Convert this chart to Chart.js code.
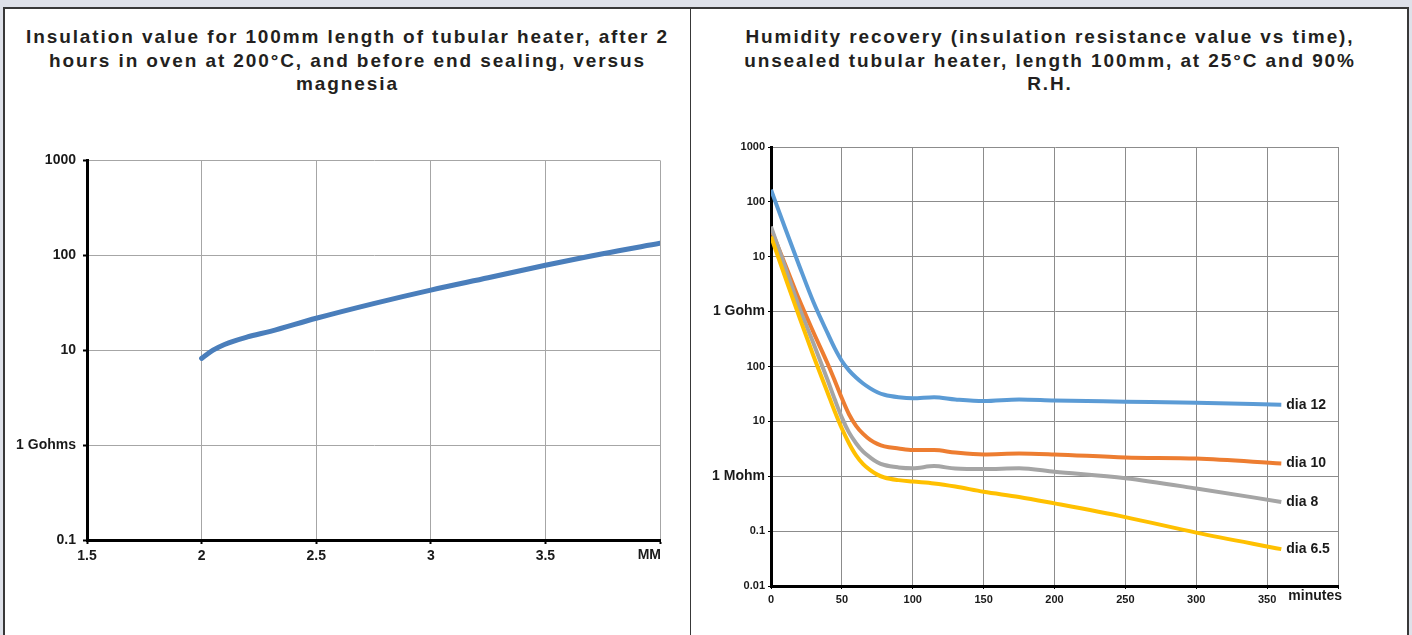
<!DOCTYPE html>
<html>
<head>
<meta charset="utf-8">
<script src="https://cdn.jsdelivr.net/npm/chart.js@4.4.1/dist/chart.umd.min.js"></script>
<style>
    html, body { margin: 0; padding: 0; }
    body {
        width: 1412px;
        height: 635px;
        overflow: hidden;
        position: relative;
        background: #dee1e9;
        font-family: "Liberation Sans", Arial, sans-serif;
    }
    .panel {
        position: absolute;
        top: 7px;
        height: 640px;
        background: #fff;
        border: 2px solid #383838;
        border-bottom: none;
        box-sizing: border-box;
    }
    #panel-left { left: 3px; width: 689px; }
    #panel-right { left: 691px; width: 718px; border-left: none; }
    .title {
        position: absolute;
        top: 25px;
        text-align: center;
        font-weight: bold;
        font-size: 19px;
        line-height: 23.5px;
        letter-spacing: 1.9px;
        color: #231f20;
    }
    #title-left { left: 3px; width: 689px; }
    #title-right { left: 691px; width: 718px; }
    .chart-box { position: absolute; }
    #box-left { left: 0; top: 145px; width: 690px; height: 460px; }
    #box-right { left: 692px; top: 135px; width: 716px; height: 480px; }
</style>
</head>
<body>
<div class="panel" id="panel-left"></div>
<div class="panel" id="panel-right"></div>
<div class="title" id="title-left">Insulation value for 100mm length of tubular heater, after 2<br>hours in oven at 200°C, and before end sealing, versus<br>magnesia</div>
<div class="title" id="title-right">Humidity recovery (insulation resistance value vs time),<br>unsealed tubular heater, length 100mm, at 25°C and 90%<br>R.H.</div>
<div class="chart-box" id="box-left"><canvas id="chart-left"></canvas></div>
<div class="chart-box" id="box-right"><canvas id="chart-right"></canvas></div>
<script>
// 左グラフ：マグネシア厚さ(mm) と 絶縁抵抗(Gohm)
const leftThickness = [2, 2.05, 2.1, 2.2, 2.3, 2.5, 2.75, 3, 3.25, 3.5, 3.75, 4];
const leftInsulation = [8.2, 10, 11.5, 13.8, 15.8, 21.7, 31, 43, 58, 78.5, 104, 134];
const leftYTicks = [0.1, 1, 10, 100, 1000];
const leftYTickLabels = ['0.1', '1 Gohms', '10', '100', '1000'];
const leftXTickLabels = ['1.5', '2', '2.5', '3', '3.5', 'MM'];

// 右グラフ：経過時間(分) と 絶縁抵抗(Mohm)
const rightMinutes = [0, 10, 20, 30, 40, 45, 50, 55, 60, 65, 70, 75, 80, 90, 100, 115, 130, 150, 175, 200, 250, 300, 360];
const dia12 = [166000, 33000, 6800, 1480, 400, 214, 126, 85, 63, 49, 40, 34, 30.5, 27.5, 26.3, 27.5, 25.1, 23.4, 25.1, 24, 22.9, 21.9, 20];
const dia10 = [31600, 7240, 1620, 417, 112, 55, 26.3, 13.5, 8.3, 5.9, 4.6, 3.9, 3.5, 3.2, 3.0, 3.0, 2.7, 2.5, 2.6, 2.5, 2.2, 2.1, 1.7];
const dia8 = [35500, 6460, 1175, 263, 56, 25, 11.7, 6.3, 4.0, 2.8, 2.2, 1.8, 1.6, 1.45, 1.4, 1.53, 1.38, 1.35, 1.4, 1.21, 0.92, 0.6, 0.34];
const dia65 = [23400, 4270, 794, 155, 33, 15.1, 7.4, 4.0, 2.4, 1.66, 1.29, 1.07, 0.95, 0.85, 0.8, 0.74, 0.65, 0.52, 0.42, 0.32, 0.18, 0.094, 0.047];
const seriesNames = ['dia 12', 'dia 10', 'dia 8', 'dia 6.5'];
const seriesColors = ['#5b9bd5', '#ed7d31', '#a5a5a5', '#ffc000'];
const rightYTicks = [0.01, 0.1, 1, 10, 100, 1000, 10000, 100000, 1000000];
const rightYTickLabels = ['0.01', '0.1', '1 Mohm', '10', '100', '1 Gohm', '10', '100', '1000'];
const rightXTickLabels = ['0', '50', '100', '150', '200', '250', '300', '350', 'minutes'];

const FONT = '"Liberation Sans", Arial, sans-serif';

// 系列の末尾にラベルを描くプラグイン
const endLabelPlugin = {
    id: 'endLabels',
    afterDatasetsDraw(chart, args, opts) {
        if (!opts.labels) return;
        const ctx = chart.ctx;
        ctx.save();
        ctx.font = opts.font;
        ctx.fillStyle = '#1a1a1a';
        ctx.textAlign = 'left';
        ctx.textBaseline = 'middle';
        chart.data.datasets.forEach((ds, i) => {
            const pts = chart.getDatasetMeta(i).data;
            const last = pts[pts.length - 1];
            ctx.fillText(opts.labels[i], last.x + opts.offset, last.y);
        });
        ctx.restore();
    }
};

// x軸の右端に単位ラベル（右寄せ）を描くプラグイン
const axisEndTextPlugin = {
    id: 'axisEndText',
    afterDraw(chart, args, opts) {
        if (!opts.text) return;
        const x = chart.scales.x;
        const ctx = chart.ctx;
        ctx.save();
        ctx.font = opts.font;
        ctx.fillStyle = '#1a1a1a';
        ctx.textAlign = 'right';
        ctx.textBaseline = 'middle';
        ctx.fillText(opts.text, x.right + opts.dx, x.top + opts.dy);
        ctx.restore();
    }
};

Chart.register(endLabelPlugin, axisEndTextPlugin);

// 左グラフ
new Chart(document.getElementById('chart-left'), {
    type: 'line',
    data: {
        datasets: [{
            data: leftThickness.map((t, i) => ({ x: t, y: leftInsulation[i] })),
            borderColor: '#4a7ebb',
            borderWidth: 5,
            pointRadius: 0,
            cubicInterpolationMode: 'monotone',
            borderCapStyle: 'round'
        }]
    },
    options: {
        animation: false, responsive: true, maintainAspectRatio: false,
        layout: { padding: { top: 12, right: 30, left: 0, bottom: 0 } },
        plugins: {
            legend: { display: false }, tooltip: { enabled: false },
            axisEndText: { text: leftXTickLabels[leftXTickLabels.length - 1], font: 'bold 14px ' + FONT, dx: 1, dy: 15 }
        },
        scales: {
            x: {
                type: 'linear', min: 1.5, max: 4,
                afterFit: (s) => { s.height = 65; },
                grid: { color: '#a6a6a6', lineWidth: 1, tickLength: 4, tickColor: '#000', tickWidth: 2 },
                border: { color: '#000', width: 3 },
                ticks: {
                    stepSize: 0.5, padding: 4, maxRotation: 0, color: '#1a1a1a',
                    font: { family: FONT, size: 14, weight: 'bold' },
                    callback: (v, i, ticks) => i < ticks.length - 1 ? leftXTickLabels[i] : ''
                }
            },
            y: {
                type: 'logarithmic', min: 0.1, max: 1000,
                afterFit: (s) => { s.width = 87; },
                afterBuildTicks: (s) => { s.ticks = leftYTicks.map(v => ({ value: v })); },
                grid: { color: '#a6a6a6', lineWidth: 1, tickLength: 4, tickColor: '#000', tickWidth: 2 },
                border: { color: '#000', width: 3 },
                ticks: {
                    padding: 7, color: '#1a1a1a',
                    font: { family: FONT, size: 14, weight: 'bold' },
                    callback: (v, i) => leftYTickLabels[i]
                }
            }
        }
    }
});

// 右グラフ
const seriesValues = [dia12, dia10, dia8, dia65];
new Chart(document.getElementById('chart-right'), {
    type: 'line',
    data: {
        datasets: seriesValues.map((vals, k) => ({
            label: seriesNames[k],
            data: rightMinutes.map((t, i) => ({ x: t, y: vals[i] })),
            borderColor: seriesColors[k],
            borderWidth: 4,
            pointRadius: 0,
            cubicInterpolationMode: 'monotone'
        })).reverse()
    },
    options: {
        animation: false, responsive: true, maintainAspectRatio: false,
        layout: { padding: { top: 12, right: 70, left: 0, bottom: 0 } },
        plugins: {
            legend: { display: false }, tooltip: { enabled: false },
            endLabels: { labels: seriesNames.slice().reverse(), font: 'bold 14px ' + FONT, offset: 5 },
            axisEndText: { text: rightXTickLabels[rightXTickLabels.length - 1], font: 'bold 14px ' + FONT, dx: 4, dy: 10 }
        },
        scales: {
            x: {
                type: 'linear', min: 0, max: 400,
                afterFit: (s) => { s.height = 29; },
                grid: { color: '#8c8c8c', lineWidth: 1, tickLength: 3, tickColor: '#000' },
                border: { color: '#000', width: 3 },
                ticks: {
                    stepSize: 50, padding: 4, maxRotation: 0, color: '#1a1a1a',
                    font: { family: FONT, size: 11, weight: 'bold' },
                    callback: (v, i, ticks) => i < ticks.length - 1 ? rightXTickLabels[i] : ''
                }
            },
            y: {
                type: 'logarithmic', min: 0.01, max: 1000000,
                afterFit: (s) => { s.width = 79; },
                afterBuildTicks: (s) => { s.ticks = rightYTicks.map(v => ({ value: v })); },
                grid: { color: '#8c8c8c', lineWidth: 1, tickLength: 3, tickColor: '#000' },
                border: { color: '#000', width: 3 },
                ticks: {
                    padding: 3, color: '#1a1a1a',
                    font: (c) => ({ family: FONT, size: /ohm/.test(rightYTickLabels[c.index] || '') ? 14 : 11, weight: 'bold' }),
                    callback: (v, i) => rightYTickLabels[i]
                }
            }
        }
    }
});
</script>
</body>
</html>
